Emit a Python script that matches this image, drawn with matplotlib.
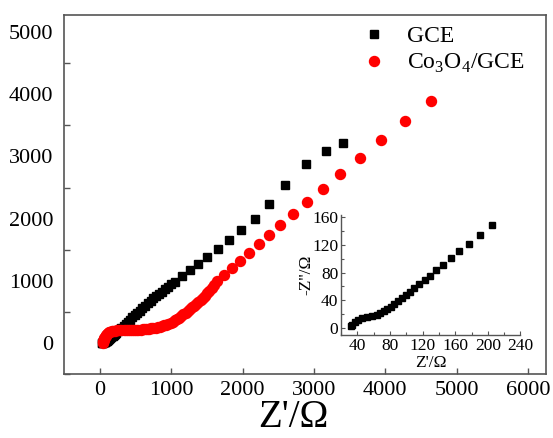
import matplotlib
matplotlib.use('Agg')
import matplotlib.pyplot as plt
from matplotlib.ticker import MultipleLocator

plt.rcParams['font.family'] = ['Liberation Serif', 'DejaVu Serif']
plt.rcParams['mathtext.fontset'] = 'custom'
plt.rcParams['mathtext.rm'] = 'Liberation Serif'

# GCE (black squares); the first 28 points are the part shown in the inset
gce_x = [32.6, 33.9, 36.7, 41.2, 46.1, 52.3, 58.4, 63.7, 68.2, 72.6, 76.8, 80.9,
         85.4, 89.9, 94.4, 99.3, 104.2, 110, 116, 122.6, 129.6, 137, 145.5,
         154.9, 165, 177, 190, 205,
         225, 250, 275, 300, 330, 360, 390, 420, 455, 490, 525, 560, 595, 630,
         670, 711, 748, 786, 825, 865, 910, 954, 1000, 1048, 1146, 1258, 1380,
         1506, 1650, 1810, 1975, 2170, 2370, 2600, 2885, 3175, 3404]
gce_y = [2.3, 4.8, 8.1, 11.6, 13.9, 15.9, 17.8, 19.2, 21.7, 24, 27, 30.4,
         34.2, 38.5, 42.8, 47.7, 52.5, 57.9, 63, 68.9, 75.7, 83.4, 91.6,
         100.7, 110.8, 121.5, 134, 148,
         169, 196, 222, 249, 281, 312, 344, 376, 413, 450, 487, 524, 561, 598,
         642, 684, 720, 754, 792, 829, 869, 909, 948, 989, 1080, 1177, 1278,
         1390, 1514, 1652, 1815, 1995, 2231, 2544, 2873, 3092, 3210]

# Co3O4/GCE (red circles)
co_x = [45, 46, 48, 52, 57, 63, 70, 78, 88, 100, 113, 128, 145, 165, 188, 213,
        240, 270, 300, 330, 360, 390, 420, 450, 480, 510, 540, 570, 600, 630,
        660, 690, 720, 750, 780, 810, 840, 870, 900, 930, 960, 990, 1020, 1050,
        1080, 1110, 1140, 1170, 1200, 1230, 1260, 1290, 1320, 1350, 1380, 1410,
        1440, 1470, 1500, 1535, 1570, 1605, 1646, 1739, 1847, 1964,
        2090, 2230, 2370, 2530, 2712, 2908, 3123, 3371, 3642, 3941, 4274, 4638]
co_y = [0, 15, 30, 48, 65, 82, 100, 117, 133, 148, 161, 172, 182, 190, 197, 202,
        206, 209, 211, 212, 213, 213, 214, 214, 215, 216, 217, 219, 221, 224,
        227, 231, 236, 242, 249, 257, 266, 276, 287, 299, 312, 330, 348, 368,
        390, 412, 436, 461, 487, 515, 544, 574, 603, 633, 665, 697,
        730, 765, 800, 845, 890, 940, 1000, 1096, 1204, 1321,
        1444, 1586, 1735, 1899, 2075, 2268, 2472, 2712, 2969, 3258, 3568, 3894]

spine_col = '#555555'

fig = plt.figure(figsize=(5.53, 4.38), dpi=100)
ax = fig.add_axes([0.1163, 0.1454, 0.8705, 0.8203])

ax.plot(gce_x, gce_y, 's', color='black', markersize=5.8, label='GCE')
ax.plot(co_x, co_y, 'o', color='red', markersize=7.2, label='Co$_3$O$_4$/GCE')

ax.set_xlim(-500, 6250)
ax.set_ylim(-500, 5270)
ax.xaxis.set_major_locator(MultipleLocator(1000))
ax.yaxis.set_major_locator(MultipleLocator(1000))
ax.yaxis.set_minor_locator(MultipleLocator(500))
ax.tick_params(axis='x', which='major', direction='in', length=4, width=1,
               color=spine_col, labelsize=16, top=False, pad=5)
ax.tick_params(axis='y', which='major', direction='in', length=0,
               labelsize=16, right=False, pad=8)
ax.tick_params(axis='y', which='minor', direction='in', length=4, width=1,
               color=spine_col, right=False)
for s in ax.spines.values():
    s.set_color(spine_col)
    s.set_linewidth(1.2)

ax.set_xlabel("Z'/Ω", fontsize=28, labelpad=0)
ax.xaxis.set_label_coords(0.475, -0.07)

leg = ax.legend(loc='upper left', bbox_to_anchor=(0.6, 0.997), frameon=False,
                fontsize=17, handlelength=1.0, handletextpad=0.9,
                labelspacing=0.2, borderaxespad=0)

# inset
ins = fig.add_axes([0.6166, 0.2352, 0.3246, 0.274])
ins.plot(gce_x[:28], gce_y[:28], 's', color='black', markersize=5)
ins.set_xlim(20, 240)
ins.set_ylim(-10, 163)
ins.xaxis.set_major_locator(MultipleLocator(40))
ins.xaxis.set_minor_locator(MultipleLocator(20))
ins.yaxis.set_major_locator(MultipleLocator(40))
ins.yaxis.set_minor_locator(MultipleLocator(20))
ins.tick_params(which='both', direction='in', labelsize=12.5, pad=2,
                color=spine_col, width=0.8)
ins.tick_params(which='major', length=3)
ins.tick_params(which='minor', length=2)
ins.spines['top'].set_visible(False)
ins.spines['right'].set_visible(False)
for s in ('left', 'bottom'):
    ins.spines[s].set_color(spine_col)
    ins.spines[s].set_linewidth(1.0)
ins.patch.set_alpha(0)
ins.set_xlabel("Z'/Ω", fontsize=12.5, labelpad=1)
ins.set_ylabel("-Z''/Ω", fontsize=12.5, labelpad=-2)

fig.savefig('out.png', dpi=100)
